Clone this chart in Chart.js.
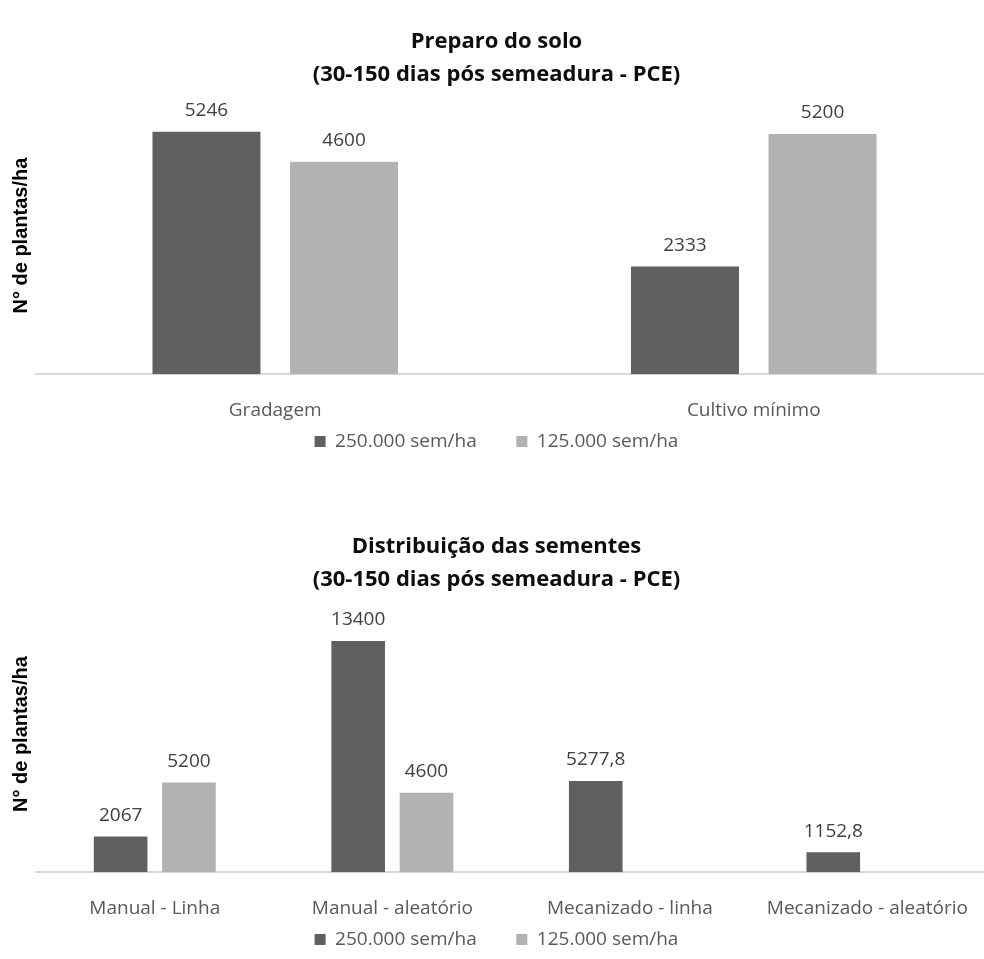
<!DOCTYPE html>
<html>
<head>
<meta charset="utf-8">
<script src="https://cdn.jsdelivr.net/npm/chart.js@4"></script>
<style>
  html, body { margin: 0; padding: 0; background: #fff; overflow: hidden; }
  .box { position: absolute; left: 0; width: 993px; height: 461px; }
  #box1 { top: 0; }
  #box2 { top: 498px; }
</style>
</head>
<body>
<div class="box" id="box1"><canvas id="chartSolo"></canvas></div>
<div class="box" id="box2"><canvas id="chartSementes"></canvas></div>
<script>
// Preparo do solo
const soloCategories = ['Gradagem', 'Cultivo mínimo'];
const solo250 = [5246, 2333];
const solo125 = [4600, 5200];

// Distribuição das sementes
const sementesCategories = ['Manual - Linha', 'Manual - aleatório', 'Mecanizado - linha', 'Mecanizado - aleatório'];
const sementes250 = [2067, 13400, 5277.8, 1152.8];
const sementes125 = [5200, 4600, null, null];

const seriesNames = ['250.000 sem/ha', '125.000 sem/ha'];
const darkGray = '#606060';
const lightGray = '#b2b2b2';
const bodyFont = '"Open Sans", sans-serif';

// writes the value above each bar, with a decimal comma
const valueLabels = {
    id: 'valueLabels',
    afterDatasetsDraw(chart) {
        const ctx = chart.ctx;
        ctx.save();
        ctx.font = '19px ' + bodyFont;
        ctx.fillStyle = '#404040';
        ctx.textAlign = 'center';
        ctx.textBaseline = 'middle';
        chart.data.datasets.forEach((ds, i) => {
            const meta = chart.getDatasetMeta(i);
            meta.data.forEach((bar, j) => {
                const v = ds.data[j];
                if (v === null || v === undefined) return;
                ctx.fillText(String(v).replace('.', ','), bar.x, bar.y - 21);
            });
        });
        ctx.restore();
    }
};

// legend entries; the first one gets some trailing room so the two items sit further apart
function legendItems(chart) {
    const items = Chart.defaults.plugins.legend.labels.generateLabels(chart);
    if (items.length) items[0].text += '      ';
    return items;
}

function makeChart(id, title, titlePad, categories, a, b, yMax) {
    return new Chart(document.getElementById(id), {
        type: 'bar',
        data: {
            labels: categories,
            datasets: [
                { label: seriesNames[0], data: a, backgroundColor: darkGray },
                { label: seriesNames[1], data: b, backgroundColor: lightGray }
            ]
        },
        options: {
            responsive: true,
            maintainAspectRatio: false,
            animation: false,
            layout: { padding: 0 },
            datasets: {
                bar: { categoryPercentage: 0.575, barPercentage: 0.785 }
            },
            scales: {
                x: {
                    grid: { display: false, drawTicks: false },
                    border: { display: true, color: '#d9d9d9', width: 2 },
                    ticks: { color: '#595959', padding: 25, font: { family: bodyFont, size: 19 } },
                    // tighten the space kept between the category names and the legend
                    afterFit(scale) { scale.height -= 25; }
                },
                y: {
                    min: 0,
                    max: yMax,
                    grid: { display: false, drawTicks: false },
                    border: { display: false },
                    ticks: { display: false },
                    title: {
                        display: true,
                        text: 'N° de plantas/ha',
                        color: '#000',
                        font: { family: '"Liberation Sans", Arial, sans-serif', size: 20, weight: 'bold' },
                        padding: { top: 9, bottom: 3 }
                    }
                }
            },
            plugins: {
                title: {
                    display: true,
                    text: title,
                    color: '#0d0d0d',
                    font: { family: bodyFont, size: 22, weight: 'bold', lineHeight: 1.5 },
                    padding: titlePad
                },
                legend: {
                    position: 'bottom',
                    labels: {
                        boxWidth: 11,
                        boxHeight: 11,
                        color: '#595959',
                        padding: 10,
                        font: { family: bodyFont, size: 19 },
                        generateLabels: legendItems
                    }
                },
                tooltip: { enabled: false }
            }
        },
        plugins: [valueLabels]
    });
}

makeChart('chartSolo', ['Preparo do solo', '(30-150 dias pós semeadura - PCE)'],
    { top: 25, bottom: 6 }, soloCategories, solo250, solo125, 6000);
makeChart('chartSementes', ['Distribuição das sementes', '(30-150 dias pós semeadura - PCE)'],
    { top: 32, bottom: 0 }, sementesCategories, sementes250, sementes125, 16000);
</script>
</body>
</html>
